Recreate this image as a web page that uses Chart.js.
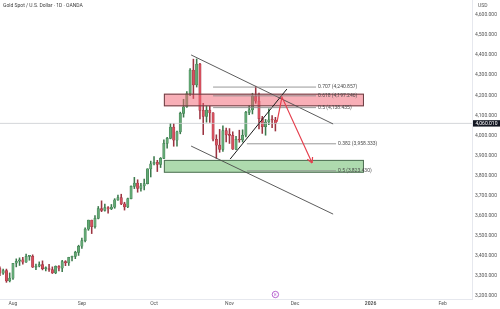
<!DOCTYPE html>
<html>
<head>
<meta charset="utf-8">
<title>Gold Spot / U.S. Dollar · 1D · OANDA</title>
<script src="https://cdn.jsdelivr.net/npm/chart.js@4.4.1/dist/chart.umd.min.js"></script>
<style>
  html, body { margin: 0; padding: 0; background: #ffffff; overflow: hidden; }
  canvas { display: block; }
</style>
</head>
<body>
<canvas id="chart" width="500" height="309"></canvas>
<script>
// ---- daily candles, XAU/USD (OANDA) ----
const dates = [
  '2025-07-24','2025-07-25','2025-07-28','2025-07-29','2025-07-30','2025-07-31',
  '2025-08-01','2025-08-04','2025-08-05','2025-08-06','2025-08-07','2025-08-08','2025-08-11','2025-08-12',
  '2025-08-13','2025-08-14','2025-08-15','2025-08-18','2025-08-19','2025-08-20','2025-08-21','2025-08-22',
  '2025-08-25','2025-08-26','2025-08-27','2025-08-28','2025-08-29',
  '2025-09-01','2025-09-02','2025-09-03','2025-09-04','2025-09-05','2025-09-08','2025-09-09','2025-09-10',
  '2025-09-11','2025-09-12','2025-09-15','2025-09-16','2025-09-17','2025-09-18','2025-09-19','2025-09-22',
  '2025-09-23','2025-09-24','2025-09-25','2025-09-26','2025-09-29','2025-09-30',
  '2025-10-01','2025-10-02','2025-10-03','2025-10-06','2025-10-07','2025-10-08','2025-10-09','2025-10-10',
  '2025-10-13','2025-10-14','2025-10-15','2025-10-16','2025-10-17','2025-10-20','2025-10-21','2025-10-22',
  '2025-10-23','2025-10-24','2025-10-27','2025-10-28','2025-10-29','2025-10-30','2025-10-31',
  '2025-11-03','2025-11-04','2025-11-05','2025-11-06','2025-11-07','2025-11-10','2025-11-11','2025-11-12',
  '2025-11-13','2025-11-14','2025-11-17','2025-11-18','2025-11-19','2025-11-20','2025-11-21'
];
const open = [
  3387,3368,3337,3314,3326,3275,
  3289,3363,3373,3380,3369,3397,3398,3343,3348,3356,3336,3337,3332,3315,3348,3339,3372,3365,3393,3397,3417,
  3448,3476,3533,3578,3545,3587,3636,3626,3640,3634,3643,3679,3690,3659,3644,3685,3746,3763,3736,3749,3760,3833,
  3858,3866,3856,3886,3960,3985,4041,3976,4018,4110,4143,4208,4326,4251,4356,4125,4095,4126,4112,3981,3952,3930,4024,
  4002,4000,3932,3980,3977,4001,4115,4127,4195,4171,4084,4044,4067,4078,4077
];
const high = [
  3394,3373,3345,3334,3334,3315,
  3363,3385,3390,3392,3409,3400,3405,3359,3370,3375,3345,3358,3345,3350,3352,3378,3376,3393,3399,3423,3453,
  3489,3540,3578,3578,3600,3646,3674,3658,3645,3656,3685,3703,3707,3667,3688,3749,3791,3779,3761,3782,3834,3872,
  3895,3876,3890,3978,3991,4060,4059,4022,4116,4180,4218,4333,4380,4381,4359,4160,4147,4146,4114,4003,4030,4048,4037,
  4034,4018,3995,4026,4028,4120,4149,4210,4245,4211,4095,4080,4132,4099,4090
];
const low = [
  3351,3325,3301,3308,3268,3270,
  3282,3345,3352,3358,3367,3378,3342,3331,3345,3330,3325,3323,3312,3311,3325,3321,3351,3352,3375,3386,3402,
  3437,3470,3527,3511,3538,3584,3620,3622,3613,3630,3637,3676,3655,3628,3640,3684,3735,3717,3722,3729,3758,3793,
  3853,3820,3840,3884,3937,3983,3946,3947,4008,4091,4140,4198,4184,4241,4082,4004,4066,4065,3973,3886,3916,3920,3967,
  3960,3930,3929,3966,3967,3993,4103,4107,4160,4032,4010,4001,4053,4039,4022
];
const close = [
  3368,3337,3314,3326,3275,3289,
  3363,3373,3380,3369,3397,3398,3343,3348,3356,3336,3337,3332,3315,3348,3339,3372,3365,3393,3397,3417,3448,
  3476,3533,3578,3545,3587,3636,3626,3640,3634,3643,3679,3690,3659,3644,3685,3746,3763,3736,3749,3760,3833,3858,
  3866,3856,3886,3960,3985,4041,3976,4018,4110,4143,4208,4326,4251,4356,4125,4095,4126,4112,3981,3952,3930,4024,4002,
  4000,3932,3980,3977,4001,4115,4127,4195,4171,4084,4044,4067,4078,4077,4060.01
];
const lastPrice = 4060.01;

// ---- axis ticks ----
const priceTicks = [3200,3300,3400,3500,3600,3700,3800,3900,4000,4100,4200,4300,4400,4500,4600];
const timeTickDates = ['2025-08-01','2025-09-01','2025-10-01','2025-11-03','2025-12-01','2026-01-01','2026-02-02'];
const timeTickLabels = ['Aug','Sep','Oct','Nov','Dec','2026','Feb'];

// ---- drawings, in (bar index, price) ----
const resistanceZone = { from: 46, to: 107, low: 4145, high: 4208 };
const supportZone    = { from: 46, to: 107, low: 3814, high: 3878 };
const fibUpperLevels = [0.707, 0.618, 0.5];
const fibUpperPrices = [4240.857, 4197.246, 4138.435];
const fibUpperSpan   = [61, 92.4];
const fibLowerLevels = [0.382, 0.5];
const fibLowerPrices = [3958.333, 3823.430];
const fibLowerSpan   = [71.3, 98.5];
const channelUpper = [[54.3, 4401], [97.6, 4057]];
const channelLower = [[54.3, 3947], [97.6, 3608]];
const risingLine   = [[66.2, 3882], [83.5, 4231]];
const projection   = [[80.5, 4067], [82.0, 4191], [91.2, 3863]];
const eventMarkerIndex = 80;

// trading-day index counted from 1 Aug 2025 (weekdays only)
const DAY = 86400000;
const BASE = Date.UTC(2025, 7, 1);
function toUTC(iso) { const [y, m, d] = iso.split('-').map(Number); return Date.UTC(y, m - 1, d); }
function weekdaysIn(a, b) {
  let n = 0;
  for (let u = a; u < b; u += DAY) { const wd = new Date(u).getUTCDay(); if (wd !== 0 && wd !== 6) n++; }
  return n;
}
function tradingIndex(iso) {
  const t = toUTC(iso);
  return t >= BASE ? weekdaysIn(BASE, t) : -weekdaysIn(t, BASE);
}

const xs = dates.map(tradingIndex);
const timeTicks = timeTickDates.map(tradingIndex);
const isUp = close.map((c, i) => c >= open[i]);

const UP_FILL = '#62a874', UP_EDGE = '#3c7a4d';
const DN_FILL = '#d6505e', DN_EDGE = '#9b3340';

const fmt3 = v => v.toLocaleString('en-US', { minimumFractionDigits: 3, maximumFractionDigits: 3 });
const pts = arr => arr.map(([x, y]) => ({ x, y }));
const FONT = 'Roboto, "Liberation Sans", sans-serif';

function lineSet(data, color, width, order) {
  return { type: 'line', data, borderColor: color, borderWidth: width, pointRadius: 0,
           fill: false, tension: 0, order: order === undefined ? 1 : order };
}

const datasets = [
  { // wicks
    type: 'bar', order: 11, grouped: false, barThickness: 0.9,
    data: xs.map((x, i) => ({ x, y: [low[i], high[i]] })),
    backgroundColor: isUp.map(u => u ? UP_EDGE : DN_EDGE), borderWidth: 0
  },
  { // bodies
    type: 'bar', order: 10, grouped: false, barThickness: 2.4, minBarLength: 1,
    data: xs.map((x, i) => ({ x, y: [open[i], close[i]] })),
    backgroundColor: isUp.map(u => u ? UP_FILL : DN_FILL),
    borderColor: isUp.map(u => u ? UP_EDGE : DN_EDGE), borderWidth: 0.5, borderSkipped: false
  },
  lineSet([{ x: -10, y: lastPrice }, { x: 150, y: lastPrice }], '#c9cbd1', 0.8, 5),
  ...fibUpperPrices.map(p => lineSet([{ x: fibUpperSpan[0], y: p }, { x: fibUpperSpan[1], y: p }], '#8c8c8c', 0.9)),
  ...fibLowerPrices.map(p => lineSet([{ x: fibLowerSpan[0], y: p }, { x: fibLowerSpan[1], y: p }], '#8c8c8c', 0.9)),
  lineSet(pts(channelUpper), '#4a4a4a', 0.9),
  lineSet(pts(channelLower), '#4a4a4a', 0.9),
  lineSet(pts(risingLine), '#1a1a1a', 1.0),
  lineSet(pts(projection), '#e5414f', 1.2, 0)
];
const projectionIndex = datasets.length - 1;

function drawZone(ctx, xS, yS, z, fill, edge) {
  const x0 = xS.getPixelForValue(z.from), x1 = xS.getPixelForValue(z.to);
  const y0 = yS.getPixelForValue(z.high), y1 = yS.getPixelForValue(z.low);
  ctx.fillStyle = fill;
  ctx.fillRect(x0, y0, x1 - x0, y1 - y0);
  ctx.strokeStyle = edge;
  ctx.lineWidth = 1;
  ctx.strokeRect(x0 + 0.5, y0 + 0.5, x1 - x0 - 1, y1 - y0 - 1);
}

const overlay = {
  id: 'overlay',
  afterDatasetDraw(chart, args) {
    if (args.index !== 1) return;
    const { ctx, chartArea, scales: { x, y } } = chart;
    ctx.save();
    ctx.beginPath();
    ctx.rect(chartArea.left, chartArea.top, chartArea.right - chartArea.left, chartArea.bottom - chartArea.top);
    ctx.clip();
    drawZone(ctx, x, y, resistanceZone, 'rgba(242, 96, 112, 0.5)', '#6a3d42');
    drawZone(ctx, x, y, supportZone, 'rgba(124, 196, 124, 0.62)', '#4f6f54');
    ctx.restore();
  },
  afterDatasetsDraw(chart) {
    const { ctx, chartArea, scales: { x, y } } = chart;
    ctx.save();
    // arrow head at the end of the projection path
    const el = chart.getDatasetMeta(projectionIndex).data;
    const a = el[el.length - 2], b = el[el.length - 1];
    const ang = Math.atan2(b.y - a.y, b.x - a.x);
    ctx.strokeStyle = '#e5414f';
    ctx.lineWidth = 1.2;
    ctx.beginPath();
    [ang + Math.PI - 0.5, ang + Math.PI + 0.5].forEach(t => {
      ctx.moveTo(b.x, b.y);
      ctx.lineTo(b.x + 6 * Math.cos(t), b.y + 6 * Math.sin(t));
    });
    ctx.stroke();

    // fibonacci level captions
    ctx.font = '5px ' + FONT;
    ctx.fillStyle = '#4a4a4a';
    ctx.textBaseline = 'middle';
    ctx.textAlign = 'left';
    fibUpperPrices.forEach((p, i) => {
      ctx.fillText(`${fibUpperLevels[i]} (${fmt3(p)})`, x.getPixelForValue(fibUpperSpan[1]) + 2, y.getPixelForValue(p));
    });
    fibLowerPrices.forEach((p, i) => {
      ctx.fillText(`${fibLowerLevels[i]} (${fmt3(p)})`, x.getPixelForValue(fibLowerSpan[1]) + 2, y.getPixelForValue(p));
    });

    // event marker on the time line
    const ex = x.getPixelForValue(eventMarkerIndex);
    const ey = chartArea.bottom - 4.5;
    ctx.strokeStyle = '#a63fc4';
    ctx.lineWidth = 0.8;
    ctx.beginPath();
    ctx.arc(ex, ey, 3.2, 0, Math.PI * 2);
    ctx.stroke();
    ctx.fillStyle = '#a63fc4';
    ctx.font = '4px ' + FONT;
    ctx.textAlign = 'center';
    ctx.fillText('E', ex, ey + 0.3);

    // last price tag on the price scale
    const py = y.getPixelForValue(lastPrice);
    ctx.fillStyle = '#131722';
    ctx.fillRect(chartArea.right + 1, py - 3.2, 27, 6.4);
    ctx.fillStyle = '#ffffff';
    ctx.font = '5px ' + FONT;
    ctx.textAlign = 'left';
    ctx.fillText(fmt3(lastPrice), chartArea.right + 3.5, py + 0.2);

    // header and unit
    ctx.fillStyle = '#3b3b3b';
    ctx.fillText('Gold Spot / U.S. Dollar · 1D · OANDA', 3, 5.5);
    ctx.fillStyle = '#555555';
    ctx.fillText('USD', chartArea.right + 6, 5.5);
    ctx.restore();
  }
};

new Chart(document.getElementById('chart'), {
  type: 'line',
  data: { datasets },
  options: {
    responsive: false,
    animation: false,
    devicePixelRatio: 1,
    layout: { padding: 0 },
    events: [],
    plugins: { legend: { display: false }, tooltip: { enabled: false }, title: { display: false } },
    scales: {
      x: {
        type: 'linear', position: 'bottom', offset: false,
        min: -3.96, max: 139.94,
        grid: { display: false, drawTicks: false },
        border: { display: true, color: '#e6e8ee', width: 1 },
        ticks: {
          autoSkip: false, maxRotation: 0, padding: 2, color: '#555555',
          font: ctx => ({ family: FONT, size: 5, weight: ctx.tick && ctx.tick.value === timeTicks[5] ? 'bold' : 'normal' }),
          callback: v => { const k = timeTicks.indexOf(v); return k >= 0 ? timeTickLabels[k] : ''; }
        },
        afterBuildTicks: s => { s.ticks = timeTicks.map(v => ({ value: v })); },
        afterFit: s => { s.height = 10; s.paddingLeft = 0; s.paddingRight = 0; }
      },
      y: {
        type: 'linear', position: 'right',
        min: 3185, max: 4674.7,
        grid: { display: false, drawTicks: false },
        border: { display: true, color: '#e6e8ee', width: 1 },
        ticks: {
          padding: 3, color: '#555555', font: { family: FONT, size: 5 },
          callback: v => fmt3(v)
        },
        afterBuildTicks: s => { s.ticks = priceTicks.map(v => ({ value: v })); },
        afterFit: s => { s.width = 28; s.paddingTop = 0; s.paddingBottom = 0; }
      }
    }
  },
  plugins: [overlay]
});
</script>
</body>
</html>
